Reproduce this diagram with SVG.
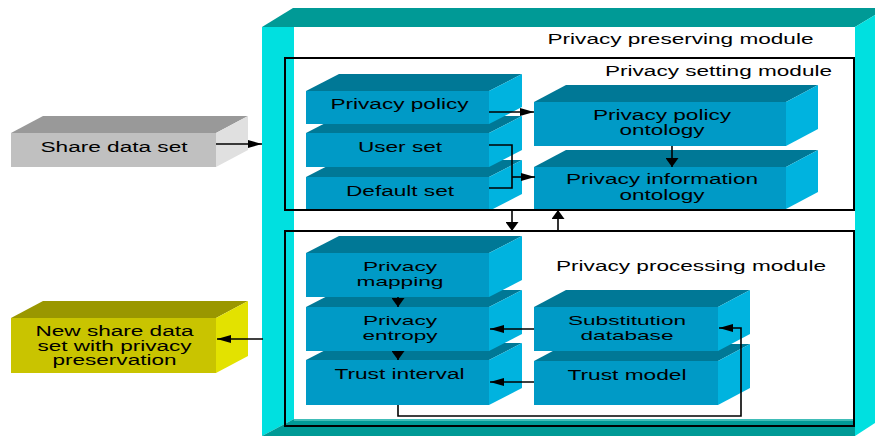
<svg xmlns="http://www.w3.org/2000/svg" width="875" height="436" viewBox="0 0 875 436">
<style>
text{font-family:"Liberation Sans",Arial,Helvetica,sans-serif;font-size:14px;fill:#000;text-anchor:middle}
text.s{font-size:13.5px}
.f{fill:#009AC6}.t{fill:#007896}.r{fill:#00B3DF}
.gf{fill:#C0C0C0}.gt{fill:#999999}.gr{fill:#E0E0E0}
.yf{fill:#C9C400}.yt{fill:#9A9700}.yr{fill:#E3E200}
.wall{fill:#00E0E0}.teal{fill:#009A96}
.mod{fill:none;stroke:#000;stroke-width:2}
.c{fill:none;stroke:#000;stroke-width:1.6}
</style>
<defs>
<marker id="ah" markerUnits="userSpaceOnUse" markerWidth="14" markerHeight="8" refX="14" refY="4" orient="auto"><path d="M0,0 L14,4 L0,8 z" fill="#000"/></marker>
<marker id="av" markerUnits="userSpaceOnUse" markerWidth="9" markerHeight="13" refX="9" refY="6.5" orient="auto"><path d="M0,0 L9,6.5 L0,13 z" fill="#000"/></marker>
</defs>

<g id="privacy-preserving-module">
<rect x="294" y="26" width="561" height="394" fill="#fff"/>
<polygon class="teal" points="262,27 293,8 875,8 875,15 855,27"/>
<polygon class="wall" points="262,27 294,27 294,419 262,436"/>
<polygon class="teal" points="262,436 294,419 855,419 855,436"/>
<rect x="294" y="419" width="561" height="2" fill="#40BDB8"/>
<polygon class="wall" points="855,27 875,15 875,423 855,436"/>
<text x="680.5" y="44" textLength="266" lengthAdjust="spacingAndGlyphs">Privacy preserving module</text>
</g>

<g id="share-data-set">
<polygon class="gt" points="11,133 43,116 248,116 216,133"/>
<polygon class="gr" points="216,133 248,116 248,150 216,167"/>
<rect class="gf" x="11" y="133" width="205" height="34"/>
<text x="114" y="151.5" textLength="147" lengthAdjust="spacingAndGlyphs">Share data set</text>
</g>

<g id="new-share-data-set">
<polygon class="yt" points="11,318 43,301 248,301 216,318"/>
<polygon class="yr" points="216,318 248,301 248,356 216,373"/>
<rect class="yf" x="11" y="318" width="205" height="55"/>
<text x="114.5" y="336" textLength="158" lengthAdjust="spacingAndGlyphs">New share data</text>
<text x="114.5" y="350.5" textLength="154" lengthAdjust="spacingAndGlyphs">set with privacy</text>
<text x="114.5" y="365" textLength="124" lengthAdjust="spacingAndGlyphs">preservation</text>
</g>

<g id="default-set">
<polygon class="t" points="306,177 339,160 522,160 489,177"/>
<polygon class="r" points="489,177 522,160 522,194 489,211"/>
<rect class="f" x="306" y="177" width="183" height="34"/>
<text x="400" y="195.5" textLength="108" lengthAdjust="spacingAndGlyphs">Default set</text>
</g>

<g id="user-set">
<polygon class="t" points="306,133 339,116 522,116 489,133"/>
<polygon class="r" points="489,133 522,116 522,150 489,167"/>
<rect class="f" x="306" y="133" width="183" height="34"/>
<text x="400" y="151.5" textLength="84" lengthAdjust="spacingAndGlyphs">User set</text>
</g>

<g id="privacy-policy">
<polygon class="t" points="306,91 339,74 522,74 489,91"/>
<polygon class="r" points="489,91 522,74 522,107 489,124"/>
<rect class="f" x="306" y="91" width="183" height="33"/>
<text x="399.5" y="109" textLength="138" lengthAdjust="spacingAndGlyphs">Privacy policy</text>
</g>

<g id="privacy-information-ontology">
<polygon class="t" points="534,167 566,150 818,150 786,167"/>
<polygon class="r" points="786,167 818,150 818,192 786,209"/>
<rect class="f" x="534" y="167" width="252" height="42"/>
<text x="662" y="184" textLength="192" lengthAdjust="spacingAndGlyphs">Privacy information</text>
<text x="662" y="199.5" textLength="85" lengthAdjust="spacingAndGlyphs">ontology</text>
</g>

<g id="privacy-policy-ontology">
<polygon class="t" points="534,102 566,85 818,85 786,102"/>
<polygon class="r" points="786,102 818,85 818,129 786,146"/>
<rect class="f" x="534" y="102" width="252" height="44"/>
<text x="662" y="119.5" textLength="138" lengthAdjust="spacingAndGlyphs">Privacy policy</text>
<text x="662" y="134.5" textLength="85" lengthAdjust="spacingAndGlyphs">ontology</text>
</g>

<g id="trust-interval">
<polygon class="t" points="306,360 339,343 522,343 489,360"/>
<polygon class="r" points="489,360 522,343 522,388 489,405"/>
<rect class="f" x="306" y="360" width="183" height="45"/>
<text x="399.5" y="379" textLength="130" lengthAdjust="spacingAndGlyphs">Trust interval</text>
</g>

<g id="privacy-entropy">
<polygon class="t" points="306,307 339,290 522,290 489,307"/>
<polygon class="r" points="489,307 522,290 522,334 489,351"/>
<rect class="f" x="306" y="307" width="183" height="44"/>
<text class="s" x="400" y="324.5" textLength="74" lengthAdjust="spacingAndGlyphs">Privacy</text>
<text class="s" x="400" y="339.5" textLength="75" lengthAdjust="spacingAndGlyphs">entropy</text>
</g>

<g id="privacy-mapping">
<polygon class="t" points="306,253 339,236 522,236 489,253"/>
<polygon class="r" points="489,253 522,236 522,280 489,297"/>
<rect class="f" x="306" y="253" width="183" height="44"/>
<text class="s" x="400" y="271" textLength="74" lengthAdjust="spacingAndGlyphs">Privacy</text>
<text class="s" x="400" y="286" textLength="87" lengthAdjust="spacingAndGlyphs">mapping</text>
</g>

<g id="trust-model">
<polygon class="t" points="534,361 566,344 750,344 718,361"/>
<polygon class="r" points="718,361 750,344 750,388 718,405"/>
<rect class="f" x="534" y="361" width="184" height="44"/>
<text x="627" y="380" textLength="119" lengthAdjust="spacingAndGlyphs">Trust model</text>
</g>

<g id="substitution-database">
<polygon class="t" points="534,307 566,290 750,290 718,307"/>
<polygon class="r" points="718,307 750,290 750,334 718,351"/>
<rect class="f" x="534" y="307" width="184" height="44"/>
<text class="s" x="627" y="325" textLength="118" lengthAdjust="spacingAndGlyphs">Substitution</text>
<text class="s" x="627" y="340" textLength="93" lengthAdjust="spacingAndGlyphs">database</text>
</g>

<g id="privacy-setting-module">
<rect class="mod" x="285" y="58" width="569" height="152"/>
<text x="718.5" y="76" textLength="227" lengthAdjust="spacingAndGlyphs">Privacy setting module</text>
</g>

<g id="privacy-processing-module">
<rect class="mod" x="285" y="231" width="569" height="195"/>
<text x="691" y="270.5" textLength="270" lengthAdjust="spacingAndGlyphs">Privacy processing module</text>
</g>

<g id="connectors">
<path class="c" d="M216,144 H262" marker-end="url(#ah)"/>
<path class="c" d="M263,339 H217" marker-end="url(#ah)"/>
<path class="c" d="M489,112 H534" marker-end="url(#ah)"/>
<path class="c" d="M489,145 H512 V188 H489"/>
<path class="c" d="M512,177 H535" marker-end="url(#ah)"/>
<path class="c" d="M672,146 V167" marker-end="url(#av)"/>
<path class="c" d="M512,210 V231" marker-end="url(#av)"/>
<path class="c" d="M558,231 V210" marker-end="url(#av)"/>
<path class="c" d="M398,297 V307" marker-end="url(#av)"/>
<path class="c" d="M398,351 V360" marker-end="url(#av)"/>
<path class="c" d="M534,329 H490" marker-end="url(#ah)"/>
<path class="c" d="M534,382 H490" marker-end="url(#ah)"/>
<path class="c" d="M398,405 V416 H741 V328 H719" marker-end="url(#ah)"/>
</g>
</svg>
